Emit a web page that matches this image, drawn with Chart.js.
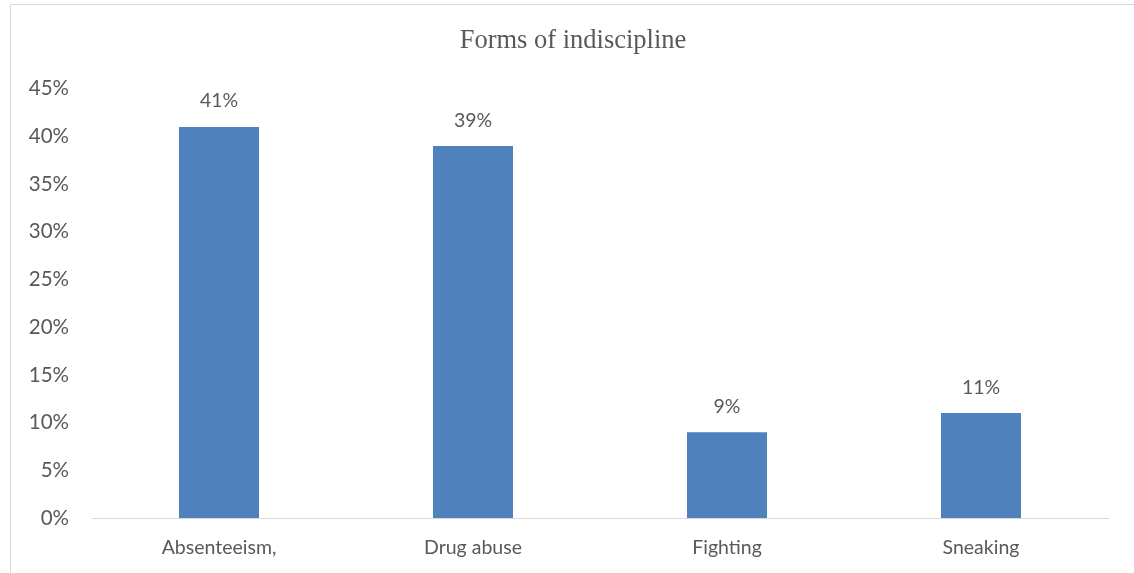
<!DOCTYPE html>
<html>
<head>
<meta charset="utf-8">
<script src="https://cdn.jsdelivr.net/npm/chart.js@4/dist/chart.umd.min.js"></script>
<style>
  html, body { margin: 0; padding: 0; background: #fff; }
  #wrap { width: 1134px; height: 573px; }
</style>
</head>
<body>
<div id="wrap"><canvas id="chart" width="1134" height="573"></canvas></div>
<script>
const categories = ['Absenteeism,', 'Drug abuse', 'Fighting', 'Sneaking'];
const shares = [41, 39, 9, 11];
const titleText = 'Forms of indiscipline';

const BAR_BLUE = '#4f81bd';
const TEXT_GREY = '#595959';
const LINE_GREY = '#d9d9d9';
const SANS = 'Lato, "Open Sans", sans-serif';

// value labels above each bar
const valueLabels = {
  id: 'valueLabels',
  afterDatasetsDraw(chart) {
    const { ctx } = chart;
    const meta = chart.getDatasetMeta(0);
    ctx.save();
    ctx.fillStyle = TEXT_GREY;
    ctx.font = `19.5px ${SANS}`;
    ctx.textAlign = 'center';
    ctx.textBaseline = 'bottom';
    meta.data.forEach((bar, i) => {
      ctx.fillText(`${shares[i]}%`, bar.x, bar.y - 16);
    });
    ctx.restore();
  },
};

// thin frame along the top and left edge; title nudged to the page centre
const frame = {
  id: 'frame',
  afterLayout(chart) {
    const tb = chart.titleBlock;
    if (tb) { tb.left += 14; tb.right += 14; }
  },
  beforeDraw(chart) {
    const { ctx, width, height } = chart;
    ctx.save();
    ctx.strokeStyle = LINE_GREY;
    ctx.lineWidth = 1;
    ctx.beginPath();
    ctx.moveTo(10.5, height);
    ctx.lineTo(10.5, 4.5);
    ctx.lineTo(width, 4.5);
    ctx.stroke();
    ctx.restore();
  },
};

new Chart(document.getElementById('chart').getContext('2d'), {
  type: 'bar',
  data: {
    labels: categories,
    datasets: [{
      data: shares,
      backgroundColor: BAR_BLUE,
      borderWidth: 0,
      barPercentage: 0.315,
      categoryPercentage: 1,
    }],
  },
  plugins: [frame, valueLabels],
  options: {
    responsive: false,
    animation: false,
    layout: { padding: { left: 10, right: 26, top: 4, bottom: 0 } },
    plugins: {
      legend: { display: false },
      tooltip: { enabled: false },
      title: {
        display: true,
        text: titleText,
        color: TEXT_GREY,
        font: { family: '"Liberation Serif", "Times New Roman", serif', size: 26.5, weight: 'normal' },
        padding: { top: 21, bottom: 32 },
      },
    },
    scales: {
      x: {
        grid: { display: false, drawTicks: false },
        border: { display: true, color: LINE_GREY, width: 1 },
        ticks: { color: TEXT_GREY, font: { family: SANS, size: 19.5 }, padding: 18 },
        afterFit: s => { s.height = 55; },
      },
      y: {
        min: 0,
        max: 45,
        grid: { display: false, drawTicks: false },
        border: { display: false },
        ticks: {
          stepSize: 5,
          color: TEXT_GREY,
          font: { family: SANS, size: 20.5 },
          padding: 23,
          callback: v => `${v}%`,
        },
        afterFit: s => { s.width = 82; },
      },
    },
  },
});
</script>
</body>
</html>
